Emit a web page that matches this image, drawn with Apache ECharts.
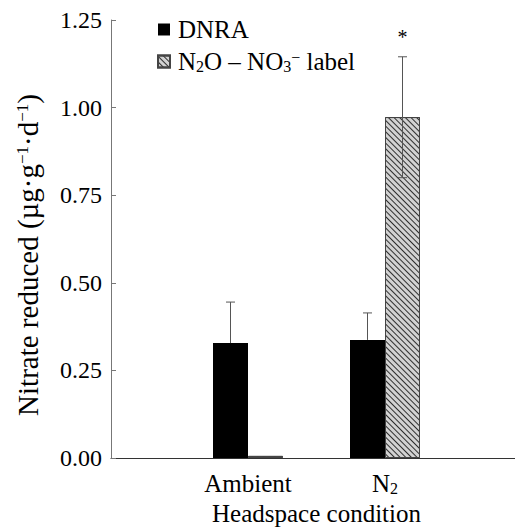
<!DOCTYPE html>
<html>
<head>
<meta charset="utf-8">
<script src="https://cdn.jsdelivr.net/npm/echarts@6/dist/echarts.min.js"></script>
<style>
html,body{margin:0;padding:0;background:#fff;overflow:hidden;width:515px;height:532px;}
#chart{width:522px;height:532px;}
</style>
</head>
<body>
<div id="chart"></div>
<script>
// ---- data ----
const categories = ['', 'Ambient', 'N2', ''];
const dnraValues = [null, 0.328, 0.337, null];
const dnraErrUpper = [null, 0.445, 0.414, null];
const labelValues = [null, 0.006, 0.973, null];
const labelErrUpper = [null, null, 1.145, null];
const labelErrLower = [null, null, 0.800, null];
const significance = ['', '', '*', ''];
const yTicks = [0, 0.25, 0.5, 0.75, 1.0, 1.25];
const seriesNames = ['DNRA', 'N2O – NO3 label'];

const FONT = "'Liberation Serif', 'Times New Roman', serif";

const hatchDecal = {
  symbol: 'rect', symbolSize: 1,
  dashArrayX: [1, 0], dashArrayY: [1, 2.6],
  rotation: Math.PI / 4,
  color: '#2e2e2e'
};

const BAR_W = 35;
const FS = 25;
function rich(fs, sfs) {
  return {
    t: { fontFamily: FONT, fontSize: fs, lineHeight: fs, color: '#000' },
    sub: { fontFamily: FONT, fontSize: sfs, lineHeight: 8, verticalAlign: 'bottom', color: '#000' },
    sup: { fontFamily: FONT, fontSize: sfs, lineHeight: sfs - 1, verticalAlign: 'top', color: '#000' }
  };
}

// error bar data: [catIndex, low, high, offsetSign, bothCaps]
const errData = [];
categories.forEach((c, i) => {
  if (dnraErrUpper[i] != null) errData.push([i, dnraValues[i], dnraErrUpper[i], -1, 0]);
  if (labelErrUpper[i] != null) errData.push([i, labelErrLower[i], labelErrUpper[i], 1, 1]);
});

const option = {
  animation: false,
  backgroundColor: '#fff',
  textStyle: { fontFamily: FONT },
  grid: { left: 111, right: 0, top: 20, bottom: 74, containLabel: false, outerBoundsMode: 'none' },
  legend: {
    orient: 'vertical',
    left: 152, top: 12,
    itemWidth: 12, itemHeight: 12, itemGap: 7,
    icon: 'rect',
    data: seriesNames,
    textStyle: {
      fontFamily: FONT, fontSize: FS, color: '#000', padding: [0, 0, 0, 3],
      lineHeight: FS,
      rich: rich(FS, 16)
    },
    formatter: function (name) {
      if (name === seriesNames[1]) return '{t|N}{sub|2}{t|O – NO}{sub|3}{sup|−}{t| label}';
      return '{t|' + name + '}';
    }
  },
  graphic: [{
    type: 'text',
    x: 28, y: 255,
    rotation: Math.PI / 2,
    style: {
      text: '{t|Nitrate reduced (µg·g}{sup|−1}{t|·d}{sup|−1}{t|)}',
      rich: rich(29, 17),
      align: 'center', verticalAlign: 'middle',
      fontFamily: FONT, fontSize: 29, fill: '#000'
    }
  }],
  xAxis: {
    type: 'category',
    data: categories,
    boundaryGap: false,
    axisLine: { lineStyle: { color: '#333', width: 1 } },
    axisTick: { show: false },
    axisLabel: {
      fontFamily: FONT, fontSize: FS, color: '#000', margin: 13,
      interval: 0,
      rich: rich(FS, 16),
      formatter: function (v) {
        if (v === 'N2') return '{t|N}{sub|2}';
        return v ? '{t|' + v + '}' : '';
      }
    },
    name: 'Headspace condition',
    nameLocation: 'middle',
    nameGap: 37,
    nameTextStyle: { fontFamily: FONT, fontSize: FS, color: '#000' }
  },
  yAxis: {
    type: 'value',
    min: yTicks[0], max: yTicks[yTicks.length - 1], interval: 0.25,
    axisLine: { show: true, lineStyle: { color: '#777', width: 1 } },
    axisTick: { show: true, inside: true, length: 5, lineStyle: { color: '#777' } },
    splitLine: { show: false },
    axisLabel: {
      fontFamily: FONT, fontSize: 24, color: '#000', margin: 9,
      formatter: v => v.toFixed(2)
    }
  },
  series: [
    {
      name: seriesNames[0], type: 'bar', data: dnraValues,
      barWidth: BAR_W, barGap: '0%',
      itemStyle: { color: '#000', borderColor: '#000', borderWidth: 0 }
    },
    {
      name: seriesNames[1], type: 'bar', data: labelValues,
      barWidth: BAR_W, barGap: '0%',
      itemStyle: { color: '#d2d2d2', borderColor: '#444', borderWidth: 1, decal: hatchDecal }
    },
    {
      type: 'custom',
      name: 'err',
      data: errData,
      z: 10,
      renderItem: function (params, api) {
        const i = api.value(0);
        const lo = api.value(1), hi = api.value(2), side = api.value(3);
        const pLo = api.coord([i, lo]);
        const pHi = api.coord([i, hi]);
        const x = pLo[0] + side * BAR_W / 2;
        const cap = 4.5;
        const style = { stroke: '#555', lineWidth: 1 };
        const children = [
          { type: 'line', shape: { x1: x, y1: pLo[1], x2: x, y2: pHi[1] }, style },
          { type: 'line', shape: { x1: x - cap, y1: pHi[1], x2: x + cap, y2: pHi[1] }, style }
        ];
        if (api.value(4) === 1) {
          children.push({ type: 'line', shape: { x1: x - cap, y1: pLo[1], x2: x + cap, y2: pLo[1] }, style });
        }
        const sig = significance[i];
        if (side === 1 && sig) {
          children.push({ type: 'text', style: { text: sig, x: x, y: pHi[1] - 20, align: 'center', verticalAlign: 'middle', fontFamily: FONT, fontSize: 20, fill: '#000' } });
        }
        return { type: 'group', children };
      }
    }
  ]
};

const chart = echarts.init(document.getElementById('chart'), null, { renderer: 'svg' });
chart.setOption(option);
if (document.fonts && document.fonts.ready) {
  document.fonts.ready.then(function () { chart.setOption(option, true); });
}
</script>
</body>
</html>
